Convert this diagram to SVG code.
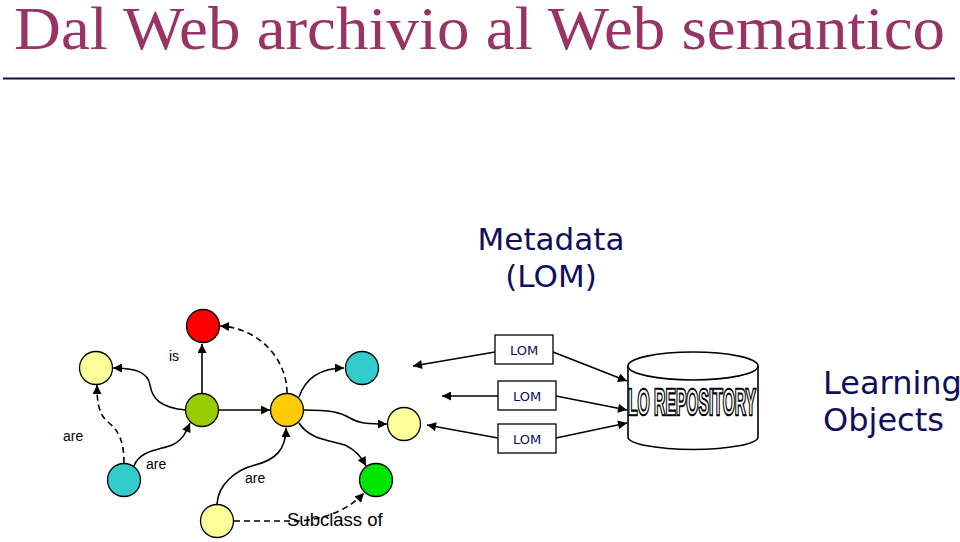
<svg xmlns="http://www.w3.org/2000/svg" width="960" height="542" viewBox="0 0 960 542">
<defs>
<marker id="ah" viewBox="0 0 10 10" refX="10" refY="5" markerWidth="11" markerHeight="9" orient="auto" markerUnits="userSpaceOnUse"><path d="M0,0 L10,5 L0,10 z" fill="#000"/></marker>
<style>
.n{stroke:#000;stroke-width:1.3}
.e{fill:none;stroke:#000;stroke-width:1.6;marker-end:url(#ah)}
.d{stroke-dasharray:6,4}
.lbl{font-family:"Liberation Sans",Arial,sans-serif;font-size:14px;fill:#000}
.navy{font-family:"DejaVu Sans",Verdana,sans-serif;fill:#0f0f5c}
.box{fill:#fff;stroke:#000;stroke-width:1.3}
</style>
</defs>
<rect width="960" height="542" fill="#fff"/>
<text x="14" y="49" font-family="'Liberation Serif','Times New Roman',serif" font-size="62" fill="#993366" textLength="931" lengthAdjust="spacingAndGlyphs">Dal Web archivio al Web semantico</text>
<line x1="3" y1="78.5" x2="955" y2="78.5" stroke="#0f0f4a" stroke-width="2"/>

<g id="metadata-label"><text class="navy" font-size="31" text-anchor="middle" x="551" y="250">Metadata</text><text class="navy" font-size="31" text-anchor="middle" x="551" y="287">(LOM)</text></g>

<g id="connectors">
<path class="e" d="M202,393 L202,344"/>
<path class="e" d="M186,410 C160,408 152,398 150,385 C148,372 135,368 113,368"/>
<path class="e" d="M219,410 L270,410"/>
<path class="e" d="M134,466 C140,450 160,450 172,445 C183,440 186,432 190,423"/>
<path class="e d" d="M124,463 C124,440 118,430 108,422 C98,414 97,400 97,385"/>
<path class="e d" d="M287,393 C287,360 260,328 220,326"/>
<path class="e" d="M217,504 C218,485 235,470 255,465 C275,460 286,450 286,428"/>
<path class="e" d="M299,397 C305,380 318,368 344,368"/>
<path class="e" d="M304,410 C330,410 340,412 350,418 C360,424 370,424 387,424"/>
<path class="e" d="M299,423 C310,440 330,440 345,445 C355,450 360,455 366,466"/>
<path class="e d" d="M234,521 L300,521 C330,518 350,508 364,493"/>
<path class="e" d="M495,352 L413,366"/>
<path class="e" d="M498,396 L442,396"/>
<path class="e" d="M498,438 L427,425"/>
<path class="e" d="M553,352 L627,381"/>
<path class="e" d="M556,396 L627,410"/>
<path class="e" d="M556,438 L627,423"/>
</g>

<g id="n-red"><circle class="n" cx="203" cy="326" r="16.5" fill="#ff0000"/></g>
<g id="n-yellow1"><circle class="n" cx="96" cy="368" r="16.5" fill="#ffff99"/></g>
<g id="n-green"><circle class="n" cx="202" cy="410" r="16.5" fill="#99cc00"/></g>
<g id="n-orange"><circle class="n" cx="287" cy="410" r="16.5" fill="#ffcc00"/></g>
<g id="n-teal1"><circle class="n" cx="124" cy="480" r="16.5" fill="#33cccc"/></g>
<g id="n-yellow2"><circle class="n" cx="217" cy="521" r="16.5" fill="#ffff99"/></g>
<g id="n-teal2"><circle class="n" cx="362" cy="368" r="16.5" fill="#33cccc"/></g>
<g id="n-yellow3"><circle class="n" cx="404" cy="424" r="16.5" fill="#ffff99"/></g>
<g id="n-brightgreen"><circle class="n" cx="376" cy="480" r="16.5" fill="#00e600"/></g>

<g id="labels">
<text class="lbl" x="169" y="361">is</text>
<text class="lbl" x="63" y="441">are</text>
<text class="lbl" x="146" y="469">are</text>
<text class="lbl" x="245" y="483">are</text>
<text x="287" y="526" font-family="'Liberation Sans',Arial,sans-serif" font-size="18.5" fill="#000">Subclass of</text>
</g>

<g id="lom1"><rect class="box" x="495" y="335" width="58" height="29"/><text class="navy" font-size="13" x="524" y="355" text-anchor="middle">LOM</text></g>
<g id="lom2"><rect class="box" x="498" y="381" width="58" height="29"/><text class="navy" font-size="13" x="527" y="401" text-anchor="middle">LOM</text></g>
<g id="lom3"><rect class="box" x="498" y="424" width="58" height="29"/><text class="navy" font-size="13" x="527" y="444" text-anchor="middle">LOM</text></g>

<g id="repository">
<path d="M628,366 L628,437 A65,12.5 0 0 0 758,437 L758,366" fill="#fff" stroke="#000" stroke-width="1.6"/>
<ellipse cx="693" cy="366" rx="65" ry="14" fill="#fff" stroke="#000" stroke-width="1.6"/>
<text transform="translate(628,415) scale(0.56,1.3)" x="0" y="0" font-family="'Liberation Sans',Arial,sans-serif" font-weight="bold" font-size="28" fill="#fff" stroke="#000" stroke-width="2" vector-effect="non-scaling-stroke" paint-order="stroke">LO REPOSITORY</text>
<text transform="translate(628,415) scale(0.56,1.3)" x="0" y="0" font-family="'Liberation Sans',Arial,sans-serif" font-weight="bold" font-size="28" fill="none" stroke="#000" stroke-width="1.2" vector-effect="non-scaling-stroke" aria-hidden="true">LO REPOSITORY</text>
</g>

<g id="learning-objects"><text class="navy" font-size="32" x="823" y="394">Learning</text><text class="navy" font-size="32" x="823" y="431">Objects</text></g>
</svg>
